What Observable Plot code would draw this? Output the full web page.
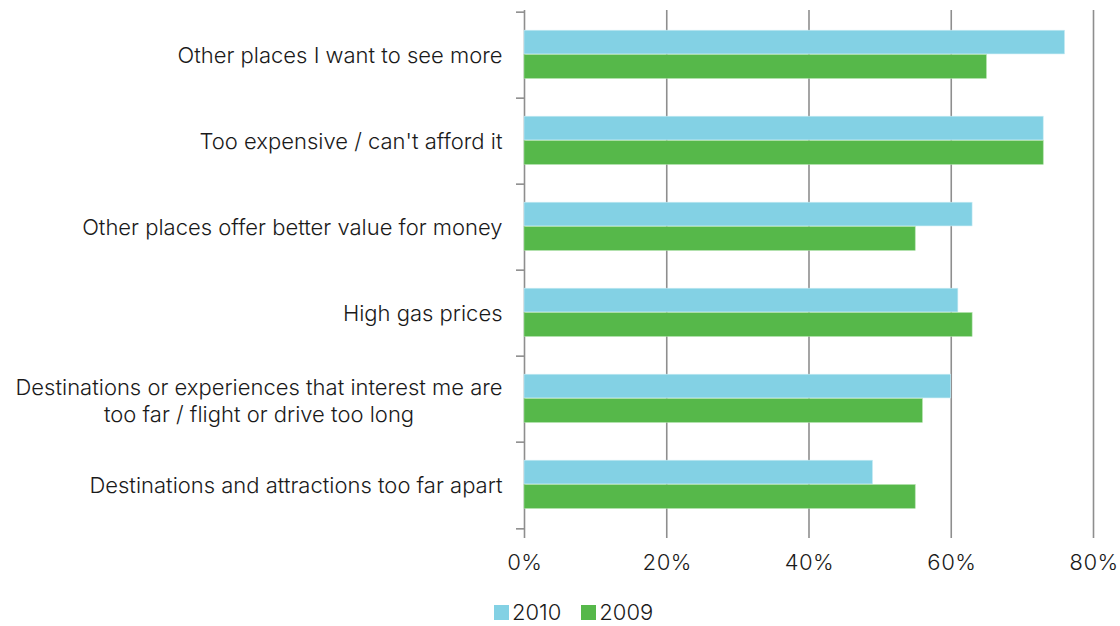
<!DOCTYPE html>
<html><head><meta charset="utf-8">
<script src="https://cdn.jsdelivr.net/npm/d3@7"></script>
<script src="https://cdn.jsdelivr.net/npm/@observablehq/plot@0.6"></script>
<style>
body{margin:0;background:#fff;font-family:Inter,sans-serif;font-weight:300}
#chart{position:relative;width:1120px;height:626px;}
.legend{position:absolute;top:599px;left:494px;display:flex;align-items:center;font-size:22px;color:#1a1a1a;line-height:26px}
.sw{width:15px;height:15px;display:inline-block;margin-right:3px}
.item{display:flex;align-items:center;margin-right:20px}
</style></head><body><div id="chart"></div>
<script>
const categories = [
  "Other places I want to see more",
  "Too expensive / can't afford it",
  "Other places offer better value for money",
  "High gas prices",
  "Destinations or experiences that interest me are too far / flight or drive too long",
  "Destinations and attractions too far apart"
];
const tickLabels = [
  "Other places I want to see more",
  "Too expensive / can't afford it",
  "Other places offer better value for money",
  "High gas prices",
  "Destinations or experiences that interest me are\ntoo far / flight or drive too long",
  "Destinations and attractions too far apart"
];
const values2010 = [76, 73, 63, 61, 60, 49];
const values2009 = [65, 73, 55, 63, 56, 55];
const xTicks = [0, 20, 40, 60, 80];
const years = ["2010", "2009"];
const colors = ["#83D1E4", "#56B84A"];

const W = 1120, H = 585, mT = 10, mB = 55, mL = 524, mR = 27;
const bw = (H - mT - mB) / categories.length;
const fontSize = 22, fontFamily = "Inter, sans-serif", fontWeight = 300;
const textColor = "#1a1a1a", gridColor = "#8e8e8e";

const d2010 = categories.map((c, i) => ({category: c, value: values2010[i]}));
const d2009 = categories.map((c, i) => ({category: c, value: values2009[i]}));
const labelData = categories.map((c, i) => ({category: c, label: tickLabels[i]}));
const single = labelData.filter(d => !d.label.includes("\n"));
const multi = labelData.filter(d => d.label.includes("\n"));

const ctx = document.createElement("canvas").getContext("2d");
ctx.font = `${fontWeight} ${fontSize}px ${fontFamily}`;
const multiDx = multi.length ? -(22 + ctx.measureText(multi[0].label.split("\n")[0]).width / 2) : 0;

const barH = 24.4, pad = 18.2;
const plot = Plot.plot({
  width: W, height: H,
  marginTop: mT, marginBottom: mB, marginLeft: mL, marginRight: mR,
  style: {fontFamily, fontSize: fontSize + "px", fontWeight, color: textColor, background: "#fff"},
  x: {domain: [0, 80], axis: null},
  y: {domain: categories, padding: 0, axis: null},
  marks: [
    Plot.ruleX(xTicks, {x: d => d, stroke: gridColor, strokeWidth: 1.6}),
    Plot.axisX(xTicks, {tickSize: 8, tickPadding: 16, label: null, tickFormat: d => d + "%", stroke: gridColor, strokeWidth: 1.6, fill: textColor, fontSize: fontSize}),
    Plot.ruleY(categories, {y: d => d, x1: 0, x2: 0, insetLeft: -8, dy: -bw / 2, stroke: gridColor, strokeWidth: 1.6}),
    Plot.ruleY(categories.slice(-1), {y: d => d, x1: 0, x2: 0, insetLeft: -8, dy: bw / 2, stroke: gridColor, strokeWidth: 1.6}),
    Plot.barX(d2010, {x: "value", y: "category", fill: colors[0], stroke: "#c9ecf4", strokeWidth: 0.6, insetTop: pad, insetBottom: bw - pad - barH}),
    Plot.barX(d2009, {x: "value", y: "category", fill: colors[1], stroke: "#a6dc9f", strokeWidth: 0.6, insetTop: pad + barH, insetBottom: bw - pad - 2 * barH}),
    Plot.text(single, {y: "category", text: "label", frameAnchor: "left", textAnchor: "end", dx: -22, fill: textColor, fontSize: fontSize}),
    Plot.text(multi, {y: "category", text: "label", frameAnchor: "left", textAnchor: "middle", dx: multiDx, lineHeight: 1.22, fill: textColor, fontSize: fontSize})
  ]
});
const chart = document.getElementById("chart");
chart.appendChild(plot);
const legend = document.createElement("div");
legend.className = "legend";
years.forEach((y, i) => {
  const item = document.createElement("div");
  item.className = "item";
  const sw = document.createElement("span");
  sw.className = "sw"; sw.style.background = colors[i];
  const t = document.createElement("span");
  t.textContent = y;
  item.appendChild(sw); item.appendChild(t);
  legend.appendChild(item);
});
chart.appendChild(legend);
</script></body></html>
